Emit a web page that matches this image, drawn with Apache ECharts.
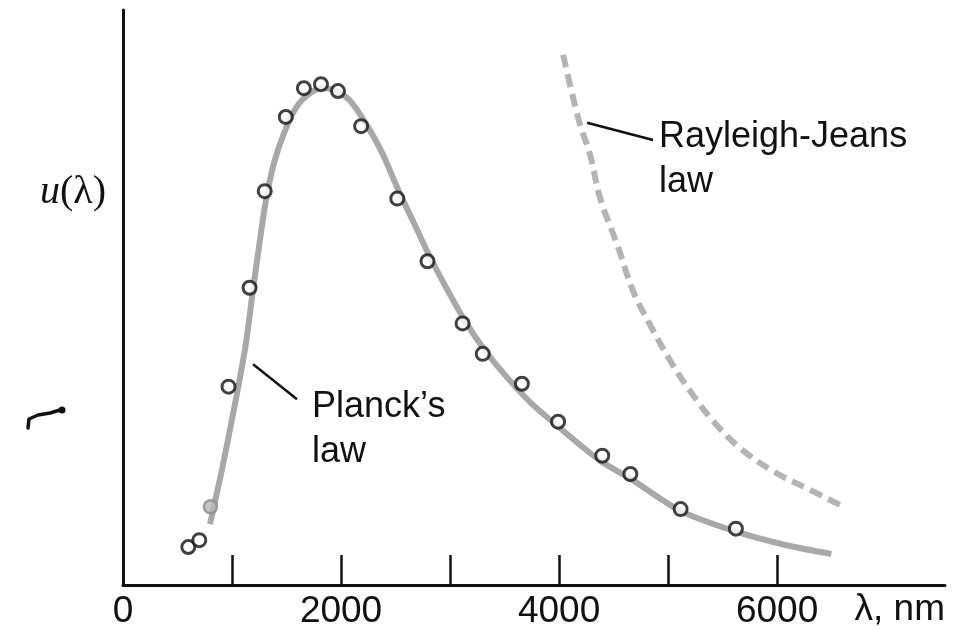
<!DOCTYPE html>
<html>
<head>
<meta charset="utf-8">
<script src="https://cdn.jsdelivr.net/npm/echarts@6/dist/echarts.min.js"></script>
<style>
  html, body { margin: 0; padding: 0; background: #fff; }
  #chart { width: 953px; height: 630px; }
</style>
</head>
<body>
<div id="chart"></div>
<script>
// Wavelength in nm, energy density u(λ) in arbitrary units (0–100)

// Planck's law curve
const planckLambda = [798, 908, 1018, 1119, 1193, 1257, 1312, 1385, 1477, 1587, 1706, 1826, 1954, 2083, 2229, 2376, 2523, 2670, 2817, 2982, 3138, 3312, 3505, 3734, 3982, 4378, 4654, 5115, 5604, 6065, 6498];
const planckU      = [10.6, 20.1, 30.6, 41.0, 51.4, 60.1, 67.0, 73.4, 78.6, 83.0, 85.4, 86.5, 85.9, 84.2, 80.2, 75.2, 68.8, 62.9, 57.0, 51.1, 45.9, 41.0, 36.5, 31.8, 27.7, 21.6, 18.5, 12.9, 9.4, 7.0, 5.4];

// Rayleigh-Jeans law curve
const rjLambda = [4037, 4129, 4194, 4286, 4378, 4535, 4682, 4839, 5023, 5207, 5419, 5668, 5972, 6286, 6590];
const rjU      = [92.2, 84.7, 80.0, 74.7, 67.2, 59.1, 51.0, 45.1, 38.9, 33.6, 28.4, 23.7, 19.7, 16.7, 13.8];

// Measured points
const measLambda = [599, 700, 802, 968, 1161, 1300, 1493, 1659, 1816, 1972, 2184, 2516, 2793, 3115, 3300, 3659, 3991, 4396, 4654, 5115, 5622];
const measU      = [6.6, 7.8, 13.6, 34.5, 51.7, 68.5, 81.4, 86.4, 87.1, 85.9, 79.8, 67.2, 56.3, 45.5, 40.2, 35.0, 28.4, 22.5, 19.3, 13.2, 9.8];
const faintPoint = 802; // this point is printed in grey

// Axis ticks and labels
const tickValues  = [1000, 2000, 3000, 4000, 5000, 6000];
const labelValues = [0, 2000, 4000, 6000];

// Leader lines from the curves to their captions
const planckLeader = [[1193, 38.4], [1596, 32.3]];
const rjLeader     = [[4257, 80.4], [4862, 77.4]];

const FONT = '"Liberation Sans", Arial, sans-serif';
const SERIF = '"Liberation Serif", "DejaVu Serif", serif';

const chart = echarts.init(document.getElementById('chart'), null, { renderer: 'canvas' });

const zip = (xs, ys) => xs.map((x, i) => [x, ys[i]]);

chart.setOption({
  backgroundColor: '#ffffff',
  animation: false,
  grid: { left: 123, right: 8, top: 10, bottom: 44, containLabel: false },
  xAxis: {
    type: 'value',
    min: 0,
    max: 7540,
    splitLine: { show: false },
    axisLine: { show: true, onZero: false, lineStyle: { color: '#111', width: 3 } },
    axisTick: {
      show: true, inside: true, length: 30,
      customValues: tickValues,
      lineStyle: { color: '#111', width: 2.5 }
    },
    axisLabel: {
      show: true,
      customValues: labelValues,
      formatter: v => String(v),
      color: '#111',
      fontFamily: FONT,
      fontSize: 37,
      margin: 8
    }
  },
  yAxis: {
    type: 'value',
    min: 0,
    max: 100,
    splitLine: { show: false },
    axisLine: { show: true, lineStyle: { color: '#111', width: 3 } },
    axisTick: { show: false },
    axisLabel: { show: false }
  },
  series: [
    {
      name: 'Planck’s law',
      type: 'line',
      data: zip(planckLambda, planckU),
      smooth: 0.3,
      showSymbol: false,
      lineStyle: { color: '#a8a8a8', width: 6 },
      markLine: {
        silent: true,
        symbol: ['none', 'none'],
        label: { show: false },
        lineStyle: { color: '#111', width: 2.5, type: 'solid' },
        data: [
          [{ coord: planckLeader[0] }, { coord: planckLeader[1] }],
          [{ coord: rjLeader[0] }, { coord: rjLeader[1] }]
        ]
      },
      z: 2
    },
    {
      name: 'Rayleigh-Jeans law',
      type: 'line',
      data: zip(rjLambda, rjU),
      smooth: 0.4,
      showSymbol: false,
      lineStyle: { color: '#b4b4b4', width: 6, type: [13, 7] },
      z: 2
    },
    {
      name: 'Measured',
      type: 'scatter',
      symbol: 'circle',
      symbolSize: 13,
      data: measLambda.map((x, i) => {
        const item = { value: [x, measU[i]] };
        if (x === faintPoint) {
          item.itemStyle = { color: '#b8b8b8', borderColor: '#8c8c8c', borderWidth: 2.5 };
        }
        return item;
      }),
      itemStyle: { color: '#ffffff', borderColor: '#111', borderWidth: 3 },
      z: 3
    }
  ],
  graphic: [
    {
      type: 'text',
      left: 40, top: 172,
      style: {
        text: '{i|u}{n|(λ)}',
        rich: {
          i: { fontFamily: SERIF, fontStyle: 'italic', fontSize: 40, fill: '#111' },
          n: { fontFamily: SERIF, fontSize: 40, fill: '#111' }
        }
      }
    },
    {
      type: 'text',
      right: 8, top: 591,
      style: { text: 'λ, nm', fontFamily: FONT, fontSize: 37, fill: '#111' }
    },
    {
      type: 'text',
      left: 312, top: 385,
      style: { text: 'Planck’s\nlaw', fontFamily: FONT, fontSize: 36, lineHeight: 45, fill: '#111' }
    },
    {
      type: 'text',
      left: 659, top: 115,
      style: { text: 'Rayleigh-Jeans\nlaw', fontFamily: FONT, fontSize: 36, lineHeight: 45, fill: '#111' }
    },
    {
      type: 'polyline',
      shape: { points: [[28, 428], [29, 419], [38, 415], [50, 413], [60, 410]] },
      style: { stroke: '#111', lineWidth: 3.5, fill: null, lineCap: 'round', lineJoin: 'round' }
    },
    {
      type: 'circle',
      shape: { cx: 62, cy: 410, r: 3.5 },
      style: { fill: '#111' }
    }
  ]
});
</script>
</body>
</html>
